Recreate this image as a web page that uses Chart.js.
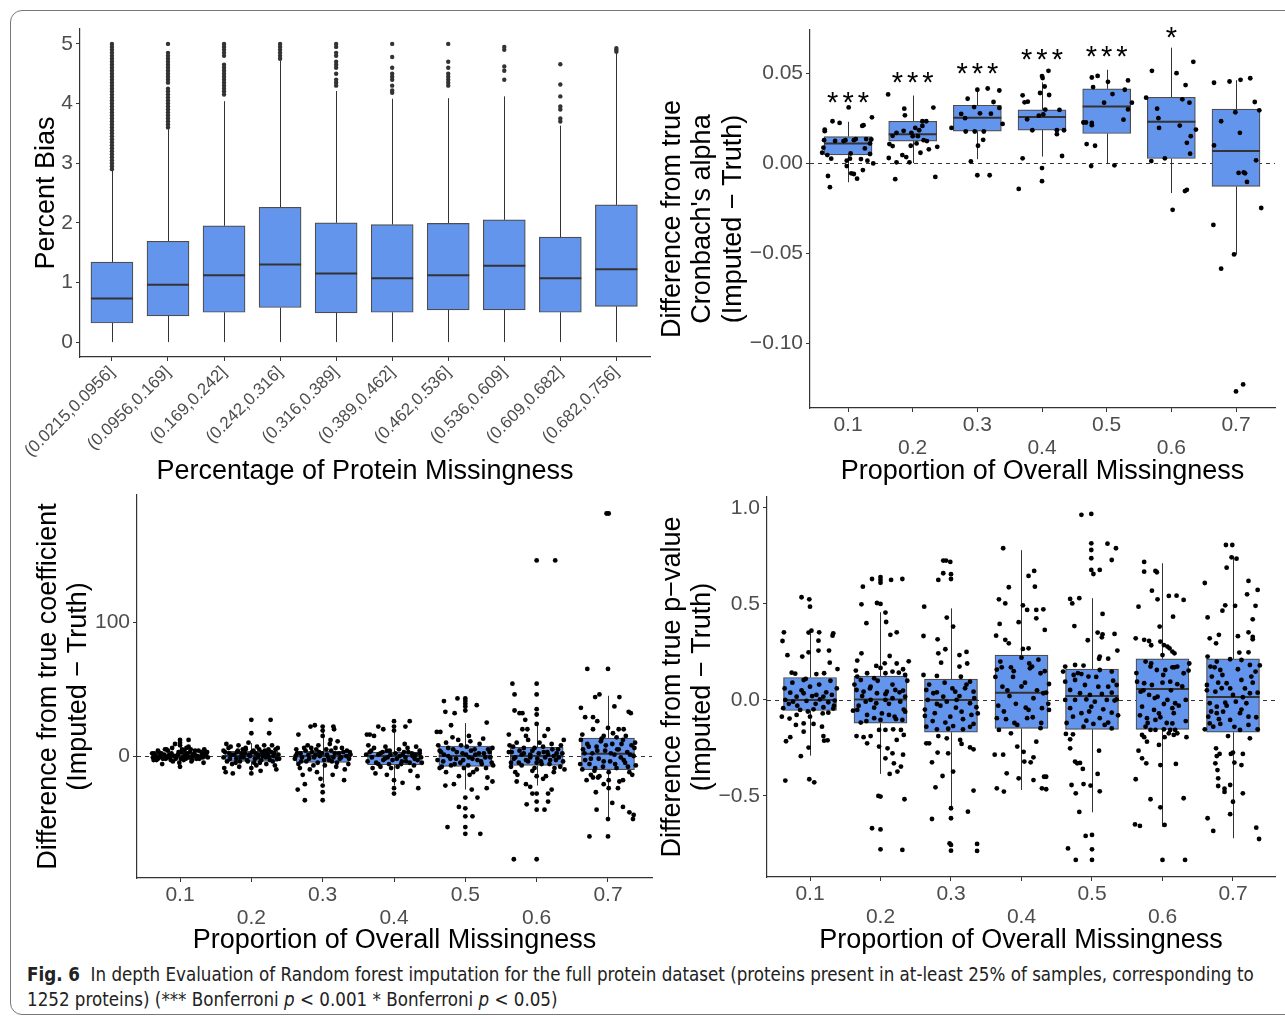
<!DOCTYPE html>
<html lang="en">
  <head>
    <title>Fig. 6</title>
    <meta charset="utf-8" />
    <style>
      body { margin: 0; background: #fff; }
      #page { position: relative; width: 1285px; height: 1019px; overflow: hidden; background: #fff; }
      #frame { position: absolute; left: 10px; top: 10px; width: 1300px; height: 1003px; border: 1px solid #777; border-radius: 12px; }
      canvas { position: absolute; }
      #caption {
        position: absolute; left: 27px; top: 962px; width: 1250px;
        font-family: "Liberation Sans Narrow", "DejaVu Sans Condensed", sans-serif;
        font-size: 18.6px; line-height: 25px; color: #222; white-space: nowrap;
      }
    </style>
  </head>
  <body>
    <div id="page">
      <div id="frame"></div>
      <canvas id="p1" width="650" height="475" style="left:10px;top:15px"></canvas>
      <canvas id="p2" width="630" height="475" style="left:655px;top:15px"></canvas>
      <canvas id="p3" width="650" height="470" style="left:10px;top:488px"></canvas>
      <canvas id="p4" width="630" height="470" style="left:655px;top:488px"></canvas>
      <div id="caption"><b>Fig. 6</b>&nbsp; In depth Evaluation of Random forest imputation for the full protein dataset (proteins present in at-least 25% of samples, corresponding to<br>1252 proteins) (*** Bonferroni <i>p</i> &lt; 0.001 * Bonferroni <i>p</i> &lt; 0.05)</div>
    </div>

    <script src="https://cdn.jsdelivr.net/npm/chart.js"></script>
    <script>
      // ---- top left: percent bias by protein missingness bin
      const p1Labels = ["(0.0215,0.0956]", "(0.0956,0.169]", "(0.169,0.242]", "(0.242,0.316]", "(0.316,0.389]",
        "(0.389,0.462]", "(0.462,0.536]", "(0.536,0.609]", "(0.609,0.682]", "(0.682,0.756]"];
      const p1Q1 = [0.32, 0.44, 0.50, 0.58, 0.49, 0.50, 0.54, 0.54, 0.50, 0.60];
      const p1Med = [0.73, 0.96, 1.12, 1.30, 1.15, 1.07, 1.12, 1.28, 1.07, 1.22];
      const p1Q3 = [1.34, 1.69, 1.95, 2.26, 2.00, 1.97, 1.99, 2.05, 1.76, 2.30];
      const p1Lo = [0, 0, 0, 0, 0, 0, 0, 0, 0, 0];
      const p1Hi = [2.88, 3.57, 4.04, 4.72, 4.21, 4.08, 4.09, 4.12, 3.63, 4.85];
      const p1Outliers = [
        [2.9, 2.95, 3.0, 3.05, 3.1, 3.15, 3.2, 3.25, 3.3, 3.35, 3.4, 3.45, 3.5, 3.55, 3.6, 3.65, 3.7, 3.75, 3.8, 3.85, 3.9,
         3.95, 4.0, 4.05, 4.1, 4.15, 4.2, 4.25, 4.3, 4.35, 4.4, 4.45, 4.5, 4.55, 4.6, 4.65, 4.7, 4.75, 4.8, 4.85, 4.9, 4.95, 5.0],
        [3.6, 3.65, 3.7, 3.75, 3.8, 3.85, 3.9, 3.95, 4.0, 4.05, 4.1, 4.15, 4.2, 4.25, 4.35, 4.4, 4.45, 4.5, 4.55, 4.6, 4.65,
         4.7, 4.75, 4.8, 4.85, 5.0],
        [4.15, 4.2, 4.25, 4.3, 4.35, 4.4, 4.45, 4.5, 4.55, 4.6, 4.65, 4.8, 4.85, 4.9, 4.95, 5.0],
        [4.75, 4.8, 4.85, 4.9, 4.95, 5.0],
        [4.3, 4.35, 4.4, 4.5, 4.6, 4.65, 4.7, 4.8, 4.85, 4.95, 5.0],
        [4.18, 4.22, 4.3, 4.4, 4.45, 4.5, 4.6, 4.78, 5.0],
        [4.3, 4.35, 4.4, 4.45, 4.5, 4.6, 4.7, 5.0],
        [4.4, 4.55, 4.62, 4.9, 4.95],
        [3.7, 3.75, 3.9, 3.95, 4.12, 4.32, 4.66],
        [4.87, 4.9, 4.93]
      ];

      // ---- shared x categories for the other three panels
      const missing = [0.1, 0.2, 0.3, 0.4, 0.5, 0.6, 0.7];
      const missingLabels = ["0.1", "0.2", "0.3", "0.4", "0.5", "0.6", "0.7"];

      // ---- top right: Cronbach's alpha difference
      const p2Q1 = [0.0045, 0.0122, 0.0177, 0.0183, 0.0164, 0.0025, -0.013];
      const p2Med = [0.0108, 0.016, 0.0252, 0.0256, 0.0314, 0.0229, 0.0067];
      const p2Q3 = [0.0147, 0.0232, 0.0321, 0.0295, 0.0412, 0.0365, 0.0299];
      const p2Lo = [-0.0107, 0.0, 0.0021, 0.0036, -0.0006, -0.0167, -0.0508];
      const p2Hi = [0.0229, 0.0375, 0.0418, 0.0448, 0.0518, 0.0641, 0.046];
      const p2Stars = ["***", "***", "***", "***", "***", "*", ""];
      const p2StarY = [0.0367, 0.0476, 0.0526, 0.0604, 0.0622, 0.0726, 0];
      const p2Jitter = [
        [[0.001,0.0309],[-0.024,0.0232],[-0.013,0.0223],[-0.036,0.0186],[-0.036,0.0177],[0.022,0.0206],[0.024,0.021],[0.037,0.0254],
         [-0.037,0.0127],[-0.020,0.0123],[-0.007,0.0122],[-0.004,0.0127],[0.009,0.0127],[0.012,0.0133],[0.028,0.0133],[0.036,0.0131],
         [-0.038,0.0085],[0.026,0.0081],[0.004,0.0053],[0.034,0.005],[-0.040,0.0057],[-0.032,0.0044],[-0.026,0.0024],[0.003,0.0024],
         [-0.002,0.0013],[0.020,0.0022],[0.030,0.0013],[0.039,-0.0002],[-0.002,-0.0017],[0.005,-0.0057],[0.009,-0.0061],[0.014,-0.0087],
         [0.023,-0.0039],[-0.031,-0.0072],[-0.028,-0.0134],[0.034,0.0109]],
        [[-0.038,0.0381],[-0.013,0.0302],[-0.012,0.0265],[0.032,0.0308],[0.021,0.0232],[0.015,0.0232],[0.015,0.0206],[0.004,0.0195],
         [0.010,0.0182],[-0.014,0.0179],[-0.025,0.0168],[-0.002,0.0168],[-0.031,0.0151],[-0.036,0.0105],[-0.031,0.0094],[-0.003,0.0096],
         [0.006,0.0109],[0.017,0.0127],[0.022,0.0122],[0.038,0.009],[0.025,0.0076],[0.012,0.0057],[-0.016,0.0044],[-0.010,0.0033],
         [-0.037,0.0028],[-0.025,0.0004],[-0.005,0.0004],[-0.027,-0.009],[0.035,-0.0077],[0,0.0149],[0.008,0.0149]],
        [[-0.015,0.0357],[0,0.0407],[0.016,0.0414],[0.034,0.0403],[0.025,0.0339],[0.034,0.0306],[-0.025,0.0273],[-0.019,0.0249],
         [-0.005,0.0311],[0.004,0.0276],[0.021,0.0274],[0.039,0.0217],[-0.040,0.0195],[-0.018,0.0175],[-0.004,0.0175],[0.010,0.0175],
         [0.009,0.0129],[0.001,0.0096],[-0.010,0.0009],[0,-0.0068],[0.019,-0.0068]],
        [[0.010,0.0512],[0,0.0483],[0.001,0.0472],[0.004,0.0425],[-0.003,0.0389],[0.011,0.0378],[-0.030,0.0376],[-0.027,0.0337],
         [-0.022,0.0341],[0.005,0.0297],[0.027,0.0295],[-0.005,0.0263],[0.002,0.027],[-0.023,0.0243],[-0.015,0.0182],[0.023,0.0182],
         [0.034,0.0182],[0.023,0.016],[-0.030,0.0026],[0.031,0.0039],[0,-0.0028],[0,-0.0101],[-0.036,-0.0144]],
        [[-0.023,0.0475],[-0.014,0.0484],[0.002,0.0451],[0.033,0.0459],[-0.021,0.0422],[0.028,0.0407],[0.009,0.0383],[-0.004,0.0335],
         [0.039,0.0335],[0.033,0.0298],[0.026,0.0241],[-0.036,0.0225],[-0.032,0.0225],[-0.023,0.0223],[-0.023,0.021],[-0.031,0.0105],
         [-0.018,0.0096],[-0.024,-0.0017],[0.012,-0.0013]],
        [[-0.030,0.0512],[0.034,0.0562],[0.008,0.0499],[0.022,0.0433],[-0.039,0.0363],[0.017,0.0354],[0.028,0.0335],[-0.022,0.0302],
         [-0.020,0.0249],[-0.019,0.0195],[0.013,0.0208],[0.038,0.0186],[0.030,0.0149],[0.024,0.0112],[0.029,0.0052],[-0.010,0.0026],
         [-0.031,0.0011],[0.002,-0.026],[0.021,-0.0156],[0.024,-0.0149]],
        [[-0.034,0.0446],[-0.010,0.0453],[0.007,0.0462],[0.022,0.0471],[0.029,0.0339],[0.036,0.0293],[-0.001,0.0282],[-0.023,0.0232],
         [0.006,0.0168],[-0.034,0.0098],[0.031,0.0015],[0.004,-0.0055],[0.012,-0.0052],[0.014,-0.0057],[0.017,-0.0105],[0.039,-0.025],
         [-0.035,-0.0344],[-0.003,-0.0508],[-0.023,-0.0587],[0.011,-0.123],[0,-0.1269]]
      ];

      // ---- bottom left: regression coefficient difference
      const p3Q1 = [-1.5, -4, -4.8, -6.5, -7.7, -7, -10.2];
      const p3Med = [0, 0, 0, 0, 0, 0, 1.7];
      const p3Q3 = [1.7, 3.5, 3.5, 3, 7.5, 6.5, 13.4];
      const p3Lo = [-5, -11, -20, -22, -25, -22, -46];
      const p3Hi = [6.7, 9.7, 22, 19, 24.6, 25, 45];
      const p3Jitter = [
        [[-0.038,-1],[-0.036,2],[-0.033,-3],[-0.030,3],[-0.028,0],[-0.025,-6],[-0.022,1],[-0.020,-2],[-0.017,4],[-0.014,-1],
         [-0.012,2],[-0.010,-4],[-0.007,9],[-0.005,0],[-0.002,3],[0,12],[0,10],[0,8],[0,-8],[0.001,-2],[0.003,5],[0.005,-3],
         [0.007,1],[0.009,6],[0.011,-1],[0.012,12],[0.012,7],[0.014,3],[0.016,-4],[0.018,0],[0.020,2],[0.023,-2],[0.026,4],
         [0.028,-1],[0.031,1],[0.033,-5],[0.035,3],[0.037,2],[0.039,-1],[-0.031,-2],[0.006,-1],[-0.019,5],
         [-0.039,2],[-0.037,-3],[-0.034,0],[-0.031,4],[-0.029,-1],[-0.026,2],[-0.024,-2],[-0.021,5],[-0.018,-1],[-0.015,1],
         [-0.013,-3],[-0.011,6],[-0.008,0],[-0.006,-2],[-0.003,1],[-0.001,-5],[0.002,3],[0.004,-1],[0.006,4],[0.008,-2],
         [0.010,2],[0.013,-1],[0.015,5],[0.017,-3],[0.019,1],[0.021,4],[0.024,0],[0.027,-2],[0.030,3],[0.032,-1],[0.034,5],
         [0.036,0],[0.038,3]],
        [[0,27],[0,17],[0.027,27],[0.025,17],[-0.039,4],[-0.035,9],[-0.032,6],[-0.030,-2],[-0.038,-9],[-0.036,-12],[-0.026,-13],
         [-0.022,-5],[-0.020,3],[-0.018,8],[-0.015,-1],[-0.012,5],[-0.009,2],[-0.006,-3],[-0.004,10],[-0.002,0],[0,-9],[0,-13],
         [0.003,4],[0.005,-2],[0.008,7],[0.010,1],[0.012,-5],[0.013,-11],[0.015,3],[0.018,8],[0.020,-1],[0.022,2],[0.024,5],
         [0.026,-3],[0.029,8],[0.031,0],[0.033,-7],[0.035,-10],[0.037,6],[0.039,-2],[-0.028,1],[-0.016,-4],[0.007,-7],[0.017,1],[-0.008,5],
         [-0.039,-1],[-0.037,3],[-0.034,-4],[-0.031,2],[-0.029,7],[-0.027,-6],[-0.024,1],[-0.021,-2],[-0.019,4],[-0.017,-8],
         [-0.014,2],[-0.011,-1],[-0.008,6],[-0.005,-4],[-0.003,1],[0.001,3],[0.004,-5],[0.006,2],[0.009,-1],[0.011,5],
         [0.014,-3],[0.016,0],[0.019,4],[0.021,-6],[0.023,1],[0.025,-1],[0.028,3],[0.030,-4],[0.032,2],[0.034,5],[0.036,-2],[0.038,1]],
        [[-0.034,16],[-0.017,22],[-0.011,23],[0,22],[0,19],[0,15],[0.015,22],[0.016,20],[0.011,12],[-0.030,-4],[-0.038,0],
         [-0.036,2],[-0.032,-9],[-0.028,-14],[-0.025,-21],[-0.035,-25],[-0.024,4],[-0.021,8],[-0.019,-2],[-0.016,6],[-0.013,-7],
         [-0.010,1],[-0.008,-12],[-0.005,3],[-0.003,-17],[0,-22],[0,-27],[0,-33],[-0.025,-33],[0.002,-3],[0.005,5],[0.008,-1],
         [0.010,9],[0.013,-4],[0.017,2],[0.019,-8],[0.021,11],[0.024,-2],[0.027,6],[0.030,-18],[0.033,0],[0.036,-6],[0.038,3],
         [0.014,-14],[-0.006,8],
         [-0.039,-2],[-0.037,5],[-0.034,-6],[-0.031,2],[-0.029,-1],[-0.026,6],[-0.023,-4],[-0.020,1],[-0.018,-10],[-0.015,3],
         [-0.012,-1],[-0.009,5],[-0.007,-5],[-0.004,0],[-0.001,2],[0.003,-7],[0.006,1],[0.009,-3],[0.012,4],[0.015,-1],
         [0.018,6],[0.020,-5],[0.023,2],[0.026,-1],[0.029,3],[0.031,-10],[0.034,4],[0.037,-2],[0.039,1]],
        [[-0.038,16],[-0.034,16],[-0.028,15],[-0.022,22],[-0.015,20],[0,26],[0,22],[0,19],[0.016,22],[0.022,26],[-0.036,8],
         [-0.032,4],[-0.030,-9],[-0.026,-13],[-0.022,-6],[-0.019,2],[-0.015,-3],[-0.012,7],[-0.009,-1],[-0.006,4],[-0.004,-9],
         [0,-18],[0,-24],[0,-28],[0.004,-2],[0.007,5],[0.010,-6],[0.012,1],[0.015,9],[0.017,-4],[0.020,3],[0.023,-11],[0.026,0],
         [0.029,-2],[0.031,7],[0.033,-15],[0.036,2],[0.039,-5],[0.034,-24],[0.012,-20],[-0.010,-14],
         [-0.039,1],[-0.037,-4],[-0.034,3],[-0.031,-1],[-0.028,6],[-0.025,-5],[-0.022,1],[-0.019,-8],[-0.016,3],[-0.013,-2],
         [-0.010,4],[-0.007,-6],[-0.005,1],[-0.002,-3],[0.002,2],[0.005,-8],[0.008,0],[0.011,-4],[0.014,3],[0.016,-1],
         [0.019,6],[0.022,-5],[0.025,2],[0.028,-7],[0.030,1],[0.033,-3],[0.036,4],[0.038,-1]],
        [[-0.011,43],[0,43],[0,41],[0,39],[0,37],[0,34],[-0.030,41],[-0.028,33],[-0.015,32],[0.016,38],[0.030,25],[-0.040,18],
         [-0.035,18],[-0.020,23],[0.005,15],[0,-31],[0,-39],[0,-45],[0.010,-45],[0,-53],[0,-58],[-0.025,-53],[0.021,-58],
         [-0.009,-38],[0.017,-31],[0.030,-24],[0.038,-19],[-0.028,-22],[-0.016,-21],[0.009,-25],[-0.038,8],[-0.034,3],[-0.031,-4],
         [-0.027,10],[-0.024,0],[-0.020,-7],[-0.017,5],[-0.013,-2],[-0.010,12],[-0.007,-5],[-0.004,2],[-0.002,-9],[0.002,7],
         [0.005,-1],[0.008,4],[0.011,-12],[0.014,1],[0.017,-3],[0.020,9],[0.023,-6],[0.026,2],[0.029,-9],[0.032,5],[0.035,-1],
         [0.038,6],[0.039,-7],[-0.036,-9],[0.006,-14],
         [-0.039,-3],[-0.036,4],[-0.033,-8],[-0.030,1],[-0.027,-12],[-0.024,6],[-0.021,-2],[-0.018,14],[-0.015,-6],[-0.012,3],
         [-0.009,-15],[-0.006,8],[-0.003,-3],[0.001,1],[0.004,-7],[0.007,11],[0.010,-2],[0.013,5],[0.016,-10],[0.019,2],
         [0.022,-4],[0.025,13],[0.028,-1],[0.031,-16],[0.034,3],[0.037,-5]],
        [[0,146],[0.026,146],[-0.034,54],[0,54],[-0.031,46],[0,46],[-0.031,34],[-0.024,32],[-0.020,32],[0,35],[0,31],[-0.016,27],
         [0,24],[0.016,20],[0.011,15],[-0.039,16],[-0.013,20],[-0.020,20],[0,-15],[0.009,-17],[-0.028,-19],[-0.015,-21],[-0.009,-23],
         [0.021,-25],[-0.006,-28],[0,-28],[0.016,-28],[0,-34],[-0.014,-36],[0,-40],[0.011,-40],[0.016,-34],[-0.032,-77],[0,-77],
         [-0.038,8],[-0.035,3],[-0.032,-2],[-0.036,-8],[-0.028,10],[-0.025,-5],[-0.021,1],[-0.018,6],[-0.015,-3],[-0.012,12],
         [-0.009,-1],[-0.006,4],[-0.003,-9],[0.003,2],[0.006,-4],[0.009,7],[0.012,-1],[0.015,3],[0.018,-6],[0.021,9],[0.024,0],
         [0.027,-3],[0.030,5],[0.033,-8],[0.036,2],[0.039,-10],[0.038,12],[-0.030,-12],[0.024,-12],[0,-5],
         [-0.039,3],[-0.036,-5],[-0.033,7],[-0.030,-1],[-0.027,-14],[-0.024,4],[-0.021,-7],[-0.018,2],[-0.015,15],[-0.012,-4],
         [-0.009,1],[-0.006,-11],[-0.003,6],[0.001,-2],[0.004,10],[0.007,-6],[0.010,3],[0.013,-15],[0.016,1],[0.019,-3],
         [0.022,5],[0.025,-9],[0.028,2],[0.031,-1],[0.034,8],[0.037,-4]],
        [[-0.002,181],[0.001,181],[-0.029,65],[0,65],[-0.018,44],[-0.012,46],[0.016,44],[-0.038,36],[0.009,37],[0.029,33],[0.032,32],
         [-0.032,29],[-0.021,29],[-0.015,26],[0,21],[-0.006,15],[0.015,20],[0.022,20],[-0.021,-16],[-0.014,-16],[0.001,-18],[0.021,-18],
         [-0.006,-21],[0.014,-24],[-0.017,-27],[0.001,-24],[0.006,-35],[-0.016,-40],[0.021,-38],[0.030,-42],[0.036,-44],[0.035,-47],
         [0,-47],[-0.026,-60],[0,-60],[-0.038,12],[-0.035,5],[-0.032,-3],[-0.036,-10],[-0.029,9],[-0.026,-6],[-0.022,2],[-0.019,-11],
         [-0.016,7],[-0.013,-2],[-0.010,11],[-0.007,-8],[-0.004,4],[0.003,-4],[0.006,9],[0.009,1],[0.012,-9],[0.015,5],[0.018,-1],
         [0.021,12],[0.024,-5],[0.027,3],[0.030,-12],[0.033,8],[0.036,0],[0.039,-7],[0.038,10],[-0.024,-14],[0.012,14],
         [-0.039,-6],[-0.036,16],[-0.033,2],[-0.030,-18],[-0.027,7],[-0.024,-2],[-0.021,20],[-0.018,-9],[-0.015,4],[-0.012,-15],
         [-0.009,13],[-0.006,-4],[-0.003,8],[0.001,-12],[0.004,2],[0.007,17],[0.010,-6],[0.013,5],[0.016,-19],[0.019,9],
         [0.022,-3],[0.025,15],[0.028,-8],[0.031,1],[0.034,-14],[0.037,6]]
      ];

      // ---- bottom right: p-value difference
      const p4Q1 = [-0.055, -0.121, -0.168, -0.148, -0.153, -0.153, -0.168];
      const p4Med = [0.0, 0.003, 0.0, 0.038, 0.021, 0.057, 0.016];
      const p4Q3 = [0.117, 0.124, 0.109, 0.234, 0.161, 0.214, 0.214];
      const p4Lo = [-0.29, -0.385, -0.564, -0.469, -0.585, -0.66, -0.72];
      const p4Hi = [0.347, 0.457, 0.477, 0.78, 0.53, 0.712, 0.747];
      const p4Jitter = [
        [[-0.012,0.535],[-0.001,0.524],[0,0.486],[-0.037,0.352],[-0.039,0.307],[0.002,0.361],[-0.002,0.351],[0.013,0.352],
         [0.032,0.335],[0.033,0.347],[0.012,0.309],[-0.032,0.233],[-0.011,0.226],[-0.002,0.248],[0.012,0.257],[0.027,0.257],
         [0.028,0.194],[0.039,0.161],[-0.026,0.142],[-0.021,0.137],[0.009,0.135],[0.020,0.139],[-0.009,0.104],[0,0.069],
         [-0.028,0.038],[-0.019,0.017],[-0.009,0.035],[0.009,0.026],[0.019,0.017],[0.031,0.026],[-0.035,0],[-0.024,-0.009],
         [-0.005,-0.005],[0.014,0.003],[0.026,-0.012],[0.035,-0.003],[-0.038,-0.043],[-0.014,-0.052],[0.005,-0.049],[0.019,-0.038],
         [0.033,-0.045],[-0.040,-0.087],[-0.029,-0.097],[-0.019,-0.078],[0,-0.087],[-0.009,-0.122],[0.005,-0.125],[0.017,-0.139],
         [-0.020,-0.13],[0.026,-0.066],[0.019,-0.188],[-0.009,-0.165],[-0.028,-0.194],[-0.034,-0.215],[0.020,-0.212],[0.025,-0.21],
         [-0.002,-0.248],[-0.013,-0.293],[-0.035,-0.42],[-0.001,-0.413],[0.006,-0.429],
         [-0.036,0.06],[-0.030,-0.02],[-0.025,0.09],[-0.018,-0.03],[-0.012,0.05],[-0.006,0.11],[-0.003,-0.06],[0.003,0.02],
         [0.008,-0.02],[0.013,0.08],[0.018,-0.07],[0.023,0.04],[0.029,0.1],[0.034,-0.03],[0.038,0.06]],
        [[-0.012,0.63],[0,0.64],[0,0.625],[0,0.61],[0.015,0.625],[0.031,0.63],[-0.025,0.59],[-0.027,0.498],[-0.005,0.505],[0,0.5],
         [0.007,0.455],[-0.020,0.40],[0.008,0.406],[0.023,0.352],[0.014,0.339],[-0.027,0.243],[-0.033,0.205],[0.013,0.229],
         [0.040,0.201],[0.023,0.19],[0.032,0.16],[-0.006,0.177],[0,0.167],[0.006,0.191],[-0.035,0.153],[-0.033,0.122],[-0.028,0.104],
         [-0.019,0.139],[-0.009,0.113],[0.007,0.139],[0.017,0.148],[0.026,0.142],[0.035,0.13],[-0.034,0.052],[-0.024,0.043],
         [-0.014,0.069],[-0.005,0.035],[0.009,0.043],[0.021,0.052],[0.032,0.049],[0.035,0.017],[-0.039,-0.056],[-0.033,-0.052],
         [-0.021,-0.009],[-0.014,0],[-0.006,-0.017],[0.007,0],[0.017,0.009],[0.028,-0.009],[0.035,-0.061],[-0.028,-0.118],
         [-0.019,-0.078],[-0.009,-0.095],[0,-0.104],[0.012,-0.078],[0.020,-0.087],[0.031,-0.104],[-0.034,-0.188],[-0.024,-0.194],
         [-0.014,-0.188],[-0.002,-0.156],[0.007,-0.156],[0.018,-0.153],[0.029,-0.156],[0.033,-0.182],[-0.019,-0.226],[-0.002,-0.243],
         [0.010,-0.252],[0.023,-0.208],[0.032,-0.285],[0.017,-0.278],[0.007,-0.304],[0.019,-0.33],[0.029,-0.347],[0.013,-0.385],
         [0.024,-0.373],[-0.003,-0.5],[0,-0.503],[0.034,-0.517],[-0.012,-0.668],[0,-0.674],[0,-0.778],[0.031,-0.781],
         [-0.037,0.08],[-0.031,-0.03],[-0.026,0.02],[-0.020,-0.11],[-0.015,0.06],[-0.009,-0.04],[-0.004,0.1],[0.002,-0.07],
         [0.007,0.03],[0.012,-0.02],[0.017,0.08],[0.022,-0.1],[0.027,0.04],[0.033,-0.05],[0.038,0.1]],
        [[-0.011,0.726],[-0.007,0.726],[-0.001,0.719],[0,0.655],[0,0.63],[-0.011,0.66],[-0.018,0.625],[-0.038,0.486],[-0.006,0.429],
         [0.003,0.382],[-0.039,0.333],[-0.019,0.316],[-0.008,0.264],[-0.018,0.243],[0.012,0.234],[0.022,0.25],[-0.014,0.194],
         [0.023,0.19],[0.012,0.174],[-0.039,0.13],[-0.020,0.125],[0.014,0.121],[0.027,0.095],[-0.035,0.052],[-0.025,0.035],
         [-0.011,0.017],[0.006,0.043],[0.020,0.061],[0.032,0.043],[-0.033,0],[-0.020,-0.021],[-0.006,-0.009],[0.008,0],
         [0.027,-0.017],[0.036,-0.038],[-0.037,-0.083],[-0.023,-0.069],[-0.001,-0.087],[0.015,-0.061],[0.029,-0.078],[-0.035,-0.139],
         [-0.020,-0.153],[-0.008,-0.118],[0.003,-0.136],[0.017,-0.153],[0.032,-0.125],[-0.035,-0.226],[-0.031,-0.226],[-0.018,-0.188],
         [-0.006,-0.2],[0.013,-0.208],[0.015,-0.229],[0.027,-0.247],[0.032,-0.257],[-0.019,-0.274],[-0.004,-0.278],[-0.027,-0.325],
         [-0.012,-0.396],[0.003,-0.373],[-0.022,-0.455],[0.032,-0.472],[0,-0.564],[0,-0.616],[-0.027,-0.62],[0.024,-0.582],
         [-0.002,-0.747],[0,-0.755],[0.037,-0.75],[0,-0.785],[0.037,-0.786],
         [-0.037,-0.05],[-0.031,0.08],[-0.026,-0.11],[-0.020,0.04],[-0.015,-0.03],[-0.009,0.09],[-0.004,-0.15],[0.002,0.06],
         [0.007,-0.04],[0.012,0.02],[0.017,-0.1],[0.022,0.08],[0.027,-0.14],[0.033,0.01],[0.038,-0.07]],
        [[-0.026,0.79],[-0.018,0.587],[-0.032,0.524],[-0.023,0.503],[-0.031,0.396],[-0.004,0.405],[-0.036,0.335],[-0.023,0.313],
         [-0.018,0.295],[-0.035,0.158],[-0.027,0.069],[-0.035,-0.095],[-0.032,-0.156],[-0.015,-0.174],[-0.038,-0.285],[-0.026,-0.285],
         [-0.006,-0.243],[-0.021,-0.382],[-0.025,-0.477],[-0.035,-0.46],[-0.004,-0.408],[0.018,0.672],[0.010,0.646],[0.019,0.59],
         [0.002,0.493],[0.008,0.469],[0.021,0.469],[0.021,0.425],[0.031,0.472],[0.033,0.365],[0.002,0.266],[0.010,0.269],
         [0.015,0.174],[0.012,0.165],[0.027,0.139],[0.039,0.083],[0.035,0.038],[0.017,0.009],[0.031,0.035],[0.010,-0.052],
         [0.039,-0.052],[0.029,-0.043],[0.008,-0.095],[0.027,-0.147],[0.021,-0.217],[0.017,-0.299],[0.004,-0.321],[0.013,-0.325],
         [0.017,-0.417],[0.032,-0.4],[0.035,-0.4],[0.029,-0.46],[0.035,-0.465],[0.003,-0.27],[-0.030,0.2],[-0.012,0.12],[-0.020,0.05],
         [-0.008,-0.02],[0.005,0.09],[-0.025,-0.06],[-0.010,-0.12],[0,0.22],[0.024,0.21],[-0.015,0.17],
         [-0.037,0.12],[-0.033,-0.03],[-0.028,0.17],[-0.022,-0.1],[-0.017,0.02],[-0.011,0.15],[-0.006,-0.13],[0,0.07],
         [0.006,-0.04],[0.011,0.19],[0.016,-0.09],[0.022,0.05],[0.028,-0.12],[0.033,0.15],[0.038,-0.02]],
        [[-0.015,0.964],[-0.001,0.969],[-0.001,0.816],[-0.001,0.781],[-0.001,0.738],[-0.001,0.677],[0.002,0.656],[0.011,0.677],
         [0.022,0.814],[0.034,0.79],[0.028,0.729],[-0.031,0.526],[-0.028,0.503],[-0.018,0.53],[-0.025,0.385],[0.015,0.448],
         [-0.006,0.311],[0.008,0.351],[0.015,0.342],[0.014,0.326],[0.032,0.344],[0.036,0.257],[0.011,0.226],[0.023,0.215],
         [0.010,0.214],[-0.038,0.174],[-0.024,0.182],[-0.012,0.179],[-0.041,0.148],[-0.026,0.13],[-0.015,0.135],[-0.005,0.122],
         [0.011,0.156],[0.028,0.148],[0.035,0.078],[-0.038,0.095],[-0.024,0.104],[-0.010,0.078],[0.009,0.069],[0.023,0.069],
         [-0.031,0.052],[-0.017,0.035],[-0.003,0.026],[0.014,0.031],[0.028,0.038],[0.035,0.003],[-0.038,0],[-0.024,0],[-0.008,0.003],
         [0.004,-0.009],[0.021,0],[0.032,-0.003],[-0.031,-0.043],[-0.015,-0.069],[-0.001,-0.035],[0.016,-0.049],[0.028,-0.066],
         [-0.027,-0.087],[-0.008,-0.108],[0.011,-0.095],[0.023,-0.118],[-0.012,-0.139],[0.002,-0.125],[0.028,-0.148],[-0.037,-0.177],
         [-0.027,-0.179],[-0.031,-0.205],[-0.031,-0.252],[-0.024,-0.321],[-0.021,-0.33],[-0.017,-0.328],[-0.013,-0.359],[0.010,-0.264],
         [0.008,-0.385],[-0.029,-0.443],[-0.023,-0.486],[-0.012,-0.438],[-0.002,-0.446],[0.011,-0.476],[-0.018,-0.583],[-0.009,-0.708],
         [0,-0.703],[-0.034,-0.773],[0,-0.778],[-0.023,-0.833],[0,-0.833],
         [-0.036,-0.12],[-0.020,0.14],[-0.004,-0.06],[0.006,0.12],[0.018,-0.13],[0.030,0.1],[0.037,-0.08]],
        [[-0.026,0.719],[-0.026,0.668],[-0.010,0.672],[-0.008,0.665],[-0.034,0.486],[-0.015,0.569],[-0.007,0.524],[0.009,0.542],
         [0.020,0.543],[0.030,0.521],[0.015,0.434],[-0.004,0.382],[-0.038,0.321],[-0.026,0.313],[-0.019,0.307],[-0.016,0.285],
         [-0.003,0.304],[0.002,0.286],[0.007,0.278],[0.010,0.269],[0.014,0.252],[0.017,0.243],[0,0.234],[-0.024,0.20],[-0.017,0.174],
         [-0.008,0.156],[0.004,0.156],[0.014,0.170],[0.021,0.174],[0.030,0.139],[0.037,0.153],[-0.036,0.095],[-0.026,0.087],
         [-0.015,0.078],[0,0.090],[0.011,0.095],[0.021,0.082],[-0.031,0.043],[-0.019,0.026],[-0.007,0.017],[0.007,0],[0.018,-0.017],
         [0.033,0],[-0.029,-0.035],[-0.012,-0.052],[0.002,-0.021],[0.014,-0.043],[0.016,-0.069],[-0.022,-0.095],[-0.010,-0.104],
         [-0.003,-0.09],[0.014,-0.122],[0.018,-0.156],[0.021,-0.174],[-0.024,-0.139],[-0.017,-0.156],[-0.010,-0.156],[0.002,-0.153],
         [0.011,-0.156],[-0.029,-0.182],[-0.026,-0.194],[-0.022,-0.217],[-0.034,-0.264],[-0.029,-0.304],[-0.023,-0.33],[-0.005,-0.234],
         [0.003,-0.194],[0.009,-0.174],[0.016,-0.182],[0.034,-0.194],[-0.003,-0.339],[0.019,-0.333],[-0.038,-0.413],[-0.017,-0.517],
         [-0.003,-0.559],[0.030,-0.512],[-0.039,-0.648],[-0.032,-0.656],[0.003,-0.651],[0,-0.833],[0.032,-0.833],
         [-0.037,0.14],[-0.032,-0.08],[-0.027,0.05],[-0.021,-0.12],[-0.016,0.19],[-0.011,0.01],[-0.005,-0.07],[0.001,0.13],
         [0.006,-0.12],[0.012,0.05],[0.017,0.17],[0.023,-0.03],[0.028,0.07],[0.033,-0.11],[0.038,0.19]],
        [[-0.010,0.807],[-0.001,0.807],[-0.002,0.743],[0.005,0.736],[-0.009,0.689],[-0.040,0.609],[0.022,0.62],[0.035,0.573],
         [0.020,0.55],[0.032,0.49],[0.003,0.49],[-0.015,0.465],[-0.011,0.493],[-0.036,0.43],[0.028,0.42],[-0.020,0.339],[-0.024,0.295],
         [-0.033,0.321],[0.007,0.332],[0.022,0.352],[0.028,0.328],[0.028,0.316],[0.022,0.248],[0.009,0.247],[-0.036,0.226],
         [-0.032,0.174],[-0.023,0.2],[-0.018,0.156],[-0.004,0.212],[0.012,0.208],[0.024,0.182],[0.032,0.148],[-0.030,0.122],
         [-0.021,0.09],[-0.009,0.087],[0.012,0.104],[0.026,0.122],[-0.037,0.078],[-0.025,0.043],[-0.016,0.061],[0,0.026],[0.014,0.014],
         [0.024,0.035],[0.035,0.038],[-0.033,-0.017],[-0.023,-0.035],[-0.011,-0.014],[0.004,-0.009],[0.019,-0.017],[-0.035,-0.087],
         [-0.023,-0.069],[-0.014,-0.061],[-0.004,-0.104],[0.010,-0.069],[0.022,-0.087],[-0.040,-0.153],[-0.033,-0.122],[-0.028,-0.139],
         [-0.018,-0.125],[-0.007,-0.188],[0.010,-0.156],[0.024,-0.20],[0.035,-0.153],[-0.024,-0.252],[-0.023,-0.292],[-0.019,-0.281],
         [-0.025,-0.33],[-0.022,-0.365],[-0.021,-0.408],[-0.021,-0.448],[-0.012,-0.462],[-0.012,-0.479],[-0.003,-0.281],[0,-0.274],
         [0.014,-0.281],[0.002,-0.326],[0.012,-0.339],[-0.004,-0.443],[0.014,-0.486],[0,-0.53],[-0.004,-0.595],[-0.036,-0.616],
         [-0.028,-0.682],[0.033,-0.665],[0.037,-0.724],
         [-0.037,0.05],[-0.031,-0.06],[-0.026,0.17],[-0.020,-0.1],[-0.015,0.13],[-0.009,-0.03],[-0.004,0.06],[0.002,-0.14],
         [0.007,0.16],[0.012,-0.05],[0.017,0.06],[0.022,-0.13],[0.028,0.09],[0.033,-0.09],[0.038,0.18]]
      ];

      Chart.defaults.font.family = '"Liberation Sans", Arial, sans-serif';
      Chart.defaults.color = "#4d4d4d";

      const minus = (s) => s.replace("-", "\u2212");

      // whiskers, dashed zero line, medians and significance stars
      function boxExtras(s) {
        return {
          id: "boxExtras",
          beforeDatasetsDraw(chart) {
            const { ctx, chartArea: a, scales: { x, y } } = chart;
            ctx.save();
            ctx.beginPath();
            ctx.rect(a.left, a.top, a.right - a.left, a.bottom - a.top);
            ctx.clip();
            ctx.strokeStyle = "#333";
            ctx.lineWidth = 1;
            if (s.zero) {
              const yz = Math.round(y.getPixelForValue(0)) + 0.5;
              ctx.setLineDash([4, 4]);
              ctx.beginPath();
              ctx.moveTo(a.left, yz);
              ctx.lineTo(a.right, yz);
              ctx.stroke();
              ctx.setLineDash([]);
            }
            s.xs.forEach((xv, i) => {
              const px = Math.round(x.getPixelForValue(xv)) + 0.5;
              ctx.beginPath();
              ctx.moveTo(px, y.getPixelForValue(s.lo[i]));
              ctx.lineTo(px, y.getPixelForValue(s.q1[i]));
              ctx.moveTo(px, y.getPixelForValue(s.q3[i]));
              ctx.lineTo(px, y.getPixelForValue(s.hi[i]));
              ctx.stroke();
            });
            ctx.restore();
          },
          afterDatasetDraw(chart, args) {
            if (args.index !== 1) return;
            const { ctx, scales: { y } } = chart;
            const bars = chart.getDatasetMeta(1).data;
            ctx.save();
            ctx.strokeStyle = "#333";
            ctx.lineWidth = 2;
            bars.forEach((b, i) => {
              const py = y.getPixelForValue(s.med[i]);
              ctx.beginPath();
              ctx.moveTo(b.x - b.width / 2, py);
              ctx.lineTo(b.x + b.width / 2, py);
              ctx.stroke();
            });
            ctx.restore();
          },
          afterDraw(chart) {
            if (!s.stars) return;
            const { ctx, scales: { x, y } } = chart;
            ctx.save();
            ctx.fillStyle = "#000";
            ctx.font = '29px "Liberation Sans", Arial, sans-serif';
            ctx.letterSpacing = "4px";
            ctx.textAlign = "center";
            ctx.textBaseline = "alphabetic";
            s.stars.forEach((t, i) => {
              if (!t) return;
              ctx.fillText(t, x.getPixelForValue(s.xs[i]) + 2, y.getPixelForValue(s.starY[i]) + 15);
            });
            ctx.restore();
          }
        };
      }

      function makePanel(id, p) {
        const boxes = p.xs.map((xv, i) => ({ x: xv, y: [p.q1[i], p.q3[i]] }));
        new Chart(document.getElementById(id), {
          type: "bar",
          data: {
            datasets: [
              {
                type: "scatter",
                data: p.points,
                pointRadius: p.radius,
                pointBackgroundColor: p.pointColor,
                pointBorderWidth: 0,
                pointHoverRadius: p.radius
              },
              {
                data: boxes,
                backgroundColor: "#6495ED",
                borderColor: "#4d4d4d",
                borderWidth: 1.2,
                borderSkipped: false,
                barThickness: p.boxPx
              }
            ]
          },
          options: {
            responsive: false,
            animation: false,
            layout: { padding: p.pad },
            plugins: { legend: { display: false }, tooltip: { enabled: false } },
            scales: {
              x: {
                type: "linear",
                min: p.xMin,
                max: p.xMax,
                offset: false,
                afterBuildTicks: (sc) => { sc.ticks = p.xTicks.map((v) => ({ value: v })); },
                afterFit: (sc) => { sc.height = p.xHeight; sc.paddingLeft = 0; sc.paddingRight = 0; },
                grid: { offset: false, drawOnChartArea: false, drawTicks: true, tickLength: 4, color: "#333" },
                border: { display: true, color: "#333", width: 1.2 },
                ticks: {
                  autoSkip: false,
                  maxRotation: p.rot,
                  minRotation: p.rot,
                  padding: p.xTickPad,
                  color: "#4d4d4d",
                  font: { size: p.xTickSize, lineHeight: 1.1 },
                  callback: p.xLabel
                },
                title: {
                  display: true,
                  text: p.xTitle,
                  color: "#000",
                  font: { size: 27, lineHeight: 1.2 },
                  padding: { top: 0, bottom: p.xTitlePad }
                }
              },
              y: {
                type: "linear",
                min: p.yMin,
                max: p.yMax,
                afterBuildTicks: (sc) => { sc.ticks = p.yTicks.map((v) => ({ value: v })); },
                afterFit: (sc) => { sc.width = p.yWidth; sc.paddingTop = 0; sc.paddingBottom = 0; },
                grid: { drawOnChartArea: false, drawTicks: true, tickLength: 4, color: "#333" },
                border: { display: true, color: "#333", width: 1.2 },
                ticks: { padding: 3, color: "#4d4d4d", font: { size: 21 }, callback: p.yLabel },
                title: {
                  display: true,
                  text: p.yTitle,
                  color: "#000",
                  font: { size: 27, lineHeight: 1.13 },
                  padding: { top: p.yTitlePad, bottom: 0 }
                }
              }
            }
          },
          plugins: [boxExtras(p)]
        });
      }

      const jitterPoints = (groups) =>
        groups.flatMap((pts, i) => pts.map(([dx, v]) => ({ x: missing[i] + dx, y: v })));
      const missingTick = (v, i) => (i % 2 === 0 ? missingLabels[i] : ["", missingLabels[i]]);
      const p1X = p1Labels.map((_, i) => i + 1);

      makePanel("p1", {
        xs: p1X, q1: p1Q1, med: p1Med, q3: p1Q3, lo: p1Lo, hi: p1Hi, zero: false,
        points: p1Outliers.flatMap((vals, i) => vals.map((v) => ({ x: p1X[i], y: v }))),
        radius: 2.2, pointColor: "#333", boxPx: 42,
        pad: { left: 0, right: 10, top: 14, bottom: 0 },
        xMin: 0.43, xMax: 10.6, xTicks: p1X, xHeight: 133, rot: 45, xTickPad: 2, xTickSize: 17,
        xLabel: (v, i) => p1Labels[i],
        xTitle: "Percentage of Protein Missingness", xTitlePad: 2,
        yMin: -0.25, yMax: 5.25, yTicks: [0, 1, 2, 3, 4, 5], yWidth: 70,
        yLabel: (v) => String(v), yTitle: "Percent Bias", yTitlePad: 21
      });

      makePanel("p2", {
        xs: missing, q1: p2Q1, med: p2Med, q3: p2Q3, lo: p2Lo, hi: p2Hi, zero: true,
        stars: p2Stars, starY: p2StarY,
        points: jitterPoints(p2Jitter), radius: 2.4, pointColor: "#000", boxPx: 48,
        pad: { left: 0, right: 10, top: 15, bottom: 0 },
        xMin: 0.0412, xMax: 0.7603, xTicks: missing, xHeight: 82, rot: 0, xTickPad: 2, xTickSize: 21,
        xLabel: missingTick,
        xTitle: "Proportion of Overall Missingness", xTitlePad: 2,
        yMin: -0.1361, yMax: 0.0739, yTicks: [-0.1, -0.05, 0, 0.05], yWidth: 155,
        yLabel: (v) => minus(v.toFixed(2)),
        yTitle: ["Difference from true", "Cronbach's alpha", "(Imputed \u2212 Truth)"], yTitlePad: 2
      });

      makePanel("p3", {
        xs: missing, q1: p3Q1, med: p3Med, q3: p3Q3, lo: p3Lo, hi: p3Hi, zero: true,
        points: jitterPoints(p3Jitter), radius: 2.4, pointColor: "#000", boxPx: 53,
        pad: { left: 0, right: 8, top: 7, bottom: 0 },
        xMin: 0.0397, xMax: 0.7617, xTicks: missing, xHeight: 80, rot: 0, xTickPad: 2, xTickSize: 21,
        xLabel: missingTick,
        xTitle: "Proportion of Overall Missingness", xTitlePad: 1,
        yMin: -91, yMax: 194.8, yTicks: [0, 100], yWidth: 127,
        yLabel: (v) => String(v),
        yTitle: ["Difference from true coefficient", "(Imputed \u2212 Truth)"], yTitlePad: 23
      });

      makePanel("p4", {
        xs: missing, q1: p4Q1, med: p4Med, q3: p4Q3, lo: p4Lo, hi: p4Hi, zero: true,
        points: jitterPoints(p4Jitter), radius: 2.4, pointColor: "#000", boxPx: 53,
        pad: { left: 0, right: 10, top: 9, bottom: 0 },
        xMin: 0.039, xMax: 0.7596, xTicks: missing, xHeight: 81, rot: 0, xTickPad: 2, xTickSize: 21,
        xLabel: missingTick,
        xTitle: "Proportion of Overall Missingness", xTitlePad: 1,
        yMin: -0.922, yMax: 1.057, yTicks: [-0.5, 0, 0.5, 1], yWidth: 112,
        yLabel: (v) => minus(v.toFixed(1)),
        yTitle: ["Difference from true p\u2212value", "(Imputed \u2212 Truth)"], yTitlePad: 2
      });
    </script>
  </body>
</html>
